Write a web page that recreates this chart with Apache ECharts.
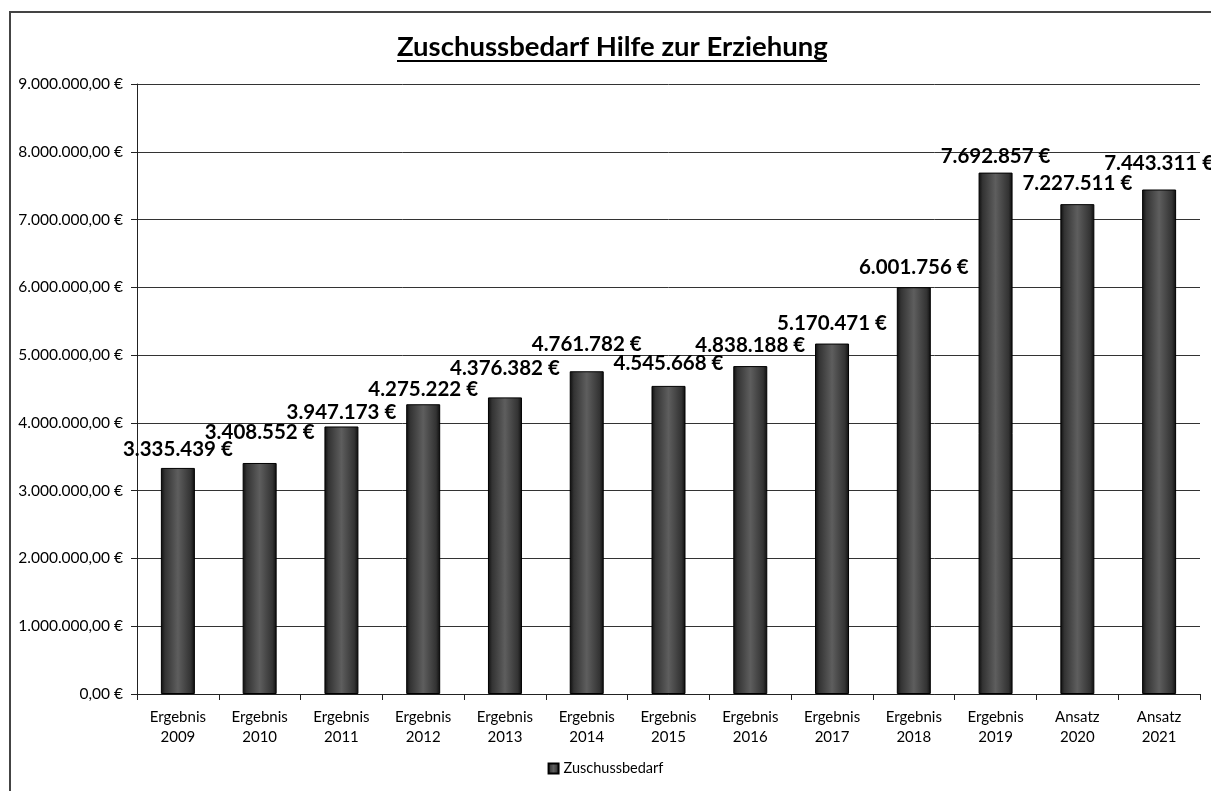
<!DOCTYPE html>
<html><head><meta charset="utf-8">
<script src="https://cdn.jsdelivr.net/npm/echarts@6/dist/echarts.min.js"></script>
<style>html,body{margin:0;padding:0;background:#fff}#c{width:1211px;height:791px}</style>
</head><body><div id="c"></div>
<script>
const categories = ["Ergebnis\n2009","Ergebnis\n2010","Ergebnis\n2011","Ergebnis\n2012","Ergebnis\n2013","Ergebnis\n2014","Ergebnis\n2015","Ergebnis\n2016","Ergebnis\n2017","Ergebnis\n2018","Ergebnis\n2019","Ansatz\n2020","Ansatz\n2021"];
const values = [3335439,3408552,3947173,4275222,4376382,4761782,4545668,4838188,5170471,6001756,7692857,7227511,7443311];
const seriesName = "Zuschussbedarf";
const titleText = "Zuschussbedarf Hilfe zur Erziehung";
// label lift above bar top (px), as manually placed in the original chart
const labelLift = [18,30,14,15,29,27,22,20,20,20,16,20,26];

function de(n, dec){
  const fixed = n.toFixed(dec);
  let [i, f] = fixed.split('.');
  i = i.replace(/\B(?=(\d{3})+(?!\d))/g, '.');
  return f ? i + ',' + f : i;
}
const FONT = 'Lato, "Open Sans", sans-serif';
const LABEL_SIZE = 20.5;
const barColor = new echarts.graphic.LinearGradient(0,0,1,0,[
  {offset:0,color:'#0d0d0d'},{offset:0.12,color:'#333'},{offset:0.5,color:'#5e5e5e'},{offset:0.88,color:'#333'},{offset:1,color:'#0d0d0d'}]);
const chart = echarts.init(document.getElementById('c'));
chart.setOption({
  animation:false,
  backgroundColor:'#fff',
  title:{text:titleText,left:397,top:33,padding:0,textStyle:{fontFamily:FONT,fontSize:27.5,fontWeight:'bold',color:'#000'}},
  graphic:[
    {type:'rect',shape:{x:10,y:12,width:1230,height:800},style:{fill:'none',stroke:'#444',lineWidth:2},silent:true,z:-1},
    {type:'line',shape:{x1:397,y1:61,x2:827,y2:61},style:{stroke:'#000',lineWidth:2},silent:true}
  ],
  legend:{bottom:10,left:'center',icon:'rect',itemWidth:10,itemHeight:10,itemGap:4,textStyle:{fontFamily:FONT,fontSize:14.5,color:'#000'},data:[seriesName]},
  grid:{left:137,right:11,top:84,bottom:97,containLabel:false},
  xAxis:{type:'category',data:categories,
    axisLine:{lineStyle:{color:'#222',width:1}},
    axisTick:{show:true,alignWithLabel:false,length:6,lineStyle:{color:'#222'}},
    axisLabel:{fontFamily:FONT,fontSize:15,color:'#000',lineHeight:20,margin:13,interval:0}},
  yAxis:{type:'value',min:0,max:9000000,interval:1000000,
    axisLine:{show:true,lineStyle:{color:'#222'}},
    axisTick:{show:true,length:6,lineStyle:{color:'#222'}},
    splitLine:{lineStyle:{color:'#333',width:1}},
    axisLabel:{fontFamily:FONT,fontSize:15.5,color:'#000',margin:14,formatter:v=>de(v,2)+' €'}},
  series:[{name:seriesName,type:'bar',barWidth:34,
    data:values.map((v,i)=>({value:v,label:{distance:labelLift[i]-LABEL_SIZE/2}})),
    itemStyle:{color:barColor,borderColor:'#000',borderWidth:1},
    label:{show:true,position:'top',fontFamily:FONT,fontSize:LABEL_SIZE,fontWeight:'bold',color:'#000',formatter:p=>de(p.value,0)+' €'}}]
});
</script></body></html>
